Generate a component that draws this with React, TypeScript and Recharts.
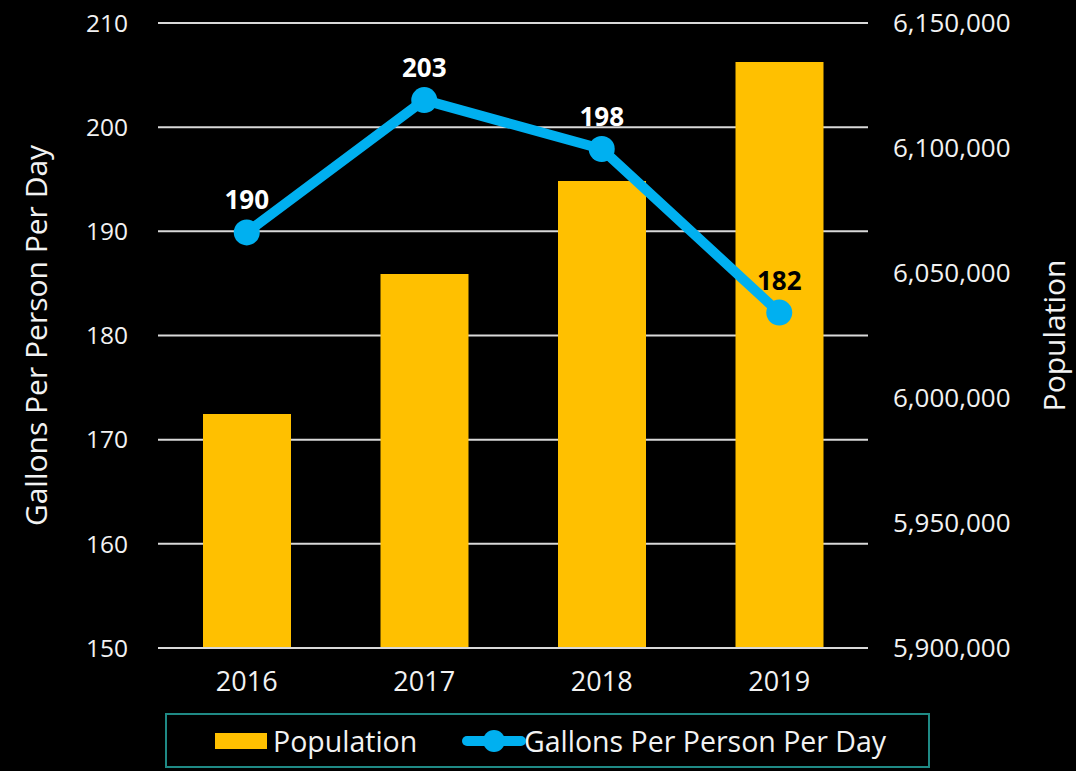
import React from 'react';
import { ComposedChart, Bar, Line, XAxis, YAxis, CartesianGrid, Legend, LabelList } from 'recharts';

const years = ['2016', '2017', '2018', '2019'];
const population = [5993600, 6049600, 6086800, 6134400];
const gallons = [189.9, 202.6, 197.9, 182.2];
const leftTicks = [150, 160, 170, 180, 190, 200, 210];
const rightTicks = [5900000, 5950000, 6000000, 6050000, 6100000, 6150000];
const seriesNames = { population: 'Population', gallons: 'Gallons Per Person Per Day' };
const darkLabelYear = '2019';

const data = years.map((y, i) => ({ year: y, population: population[i], gallons: gallons[i] }));

const FONT = '"Open Sans", "Noto Sans", sans-serif';
const TEXT = '#f2f2f2';
const YELLOW = '#FFC000';
const BLUE = '#00B0F0';

const LineLabel = (props: any) => {
  const { x, y, value, index } = props;
  const dark = years[index] === darkLabelYear;
  return (
    <text x={x} y={y - 33} textAnchor="middle" dominantBaseline="central" fill={dark ? '#000' : '#fff'}
      fontFamily={FONT} fontWeight={700} fontSize={26}>
      {Math.round(Number(value))}
    </text>
  );
};

const renderLegend = () => (
  <div style={{ height: 58 }}>
    <svg width={765} height={55} style={{ display: 'block' }}>
      <rect x={1} y={1} width={763} height={53} fill="none" stroke="#1f8a85" strokeWidth={2} />
      <rect x={50} y={20} width={52} height={16} fill={YELLOW} />
      <text x={108} y={28} dominantBaseline="central" fill={TEXT} fontFamily={FONT} fontSize={28.5}>{seriesNames.population}</text>
      <line x1={302} y1={28} x2={356} y2={28} stroke={BLUE} strokeWidth={10} strokeLinecap="round" />
      <circle cx={329} cy={28} r={11} fill={BLUE} />
      <text x={359} y={28} dominantBaseline="central" fill={TEXT} fontFamily={FONT} fontSize={28.5}>{seriesNames.gallons}</text>
    </svg>
  </div>
);

export default function App() {
  return (
    <div style={{ position: 'absolute', left: 0, top: 0, width: 1076, height: 771, background: '#000' }}>
      <ComposedChart width={1076} height={771} data={data} margin={{ top: 23, right: 0, bottom: 0, left: 0 }}>
        <CartesianGrid yAxisId="left" vertical={false} stroke="#d9d9d9" strokeWidth={2} />
        <XAxis dataKey="year" height={65} tickLine={false} tickSize={0} tickMargin={24}
          axisLine={{ stroke: '#d9d9d9', strokeWidth: 2 }}
          tick={{ fill: TEXT, fontSize: 27, fontFamily: FONT }} />
        <YAxis yAxisId="left" orientation="left" width={158} domain={[150, 210]} ticks={leftTicks}
          axisLine={false} tickLine={false} tickSize={0} tickMargin={30}
          tick={{ fill: TEXT, fontSize: 24.5, fontFamily: FONT }}
          label={{
            content: (p: any) => {
              const vb = p.viewBox;
              const cx = vb.x + 35;
              const cy = vb.y + vb.height / 2;
              return (
                <text x={cx} y={cy} transform={`rotate(-90 ${cx} ${cy})`} textAnchor="middle" dominantBaseline="central"
                  fill={TEXT} fontFamily={FONT} fontSize={30}>{seriesNames.gallons}</text>
              );
            },
          }} />
        <YAxis yAxisId="right" orientation="right" width={208} domain={[5900000, 6150000]} ticks={rightTicks}
          axisLine={false} tickLine={false} tickSize={0} tickMargin={25}
          tickFormatter={(v: number) => v.toLocaleString('en-US')}
          tick={{ fill: TEXT, fontSize: 26, fontFamily: FONT }}
          label={{
            content: (p: any) => {
              const vb = p.viewBox;
              const cx = vb.x + 185;
              const cy = vb.y + vb.height / 2;
              return (
                <text x={cx} y={cy} transform={`rotate(-90 ${cx} ${cy})`} textAnchor="middle" dominantBaseline="central"
                  fill={TEXT} fontFamily={FONT} fontSize={30}>{seriesNames.population}</text>
              );
            },
          }} />
        <Legend verticalAlign="bottom" height={58} wrapperStyle={{ left: 165, width: 765, bottom: 0 }} content={renderLegend} />
        <Bar yAxisId="right" dataKey="population" name={seriesNames.population} fill={YELLOW} barSize={88} isAnimationActive={false} />
        <Line yAxisId="left" dataKey="gallons" name={seriesNames.gallons} stroke={BLUE} strokeWidth={10}
          dot={{ r: 13, fill: BLUE, stroke: BLUE, strokeWidth: 0 }} activeDot={false} isAnimationActive={false}>
          <LabelList dataKey="gallons" content={LineLabel} />
        </Line>
      </ComposedChart>
    </div>
  );
}
